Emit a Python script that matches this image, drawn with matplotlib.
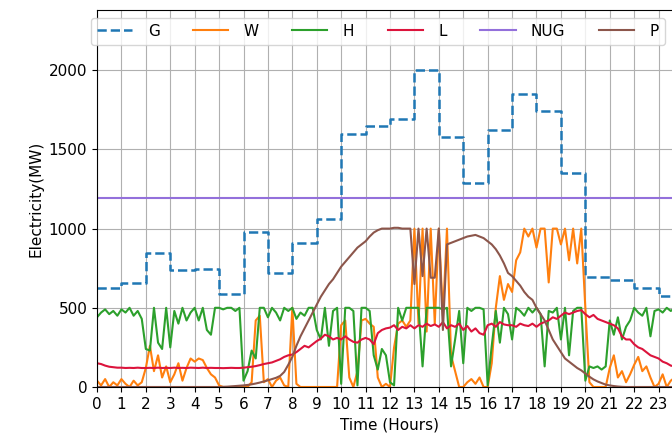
import numpy as np
import matplotlib
matplotlib.use("Agg")
import matplotlib.pyplot as plt

# ---- data ----
hours = np.arange(24)
G = [625, 656, 845, 738, 745, 587, 978, 719, 908, 1060, 1600, 1650,
     1690, 2000, 1580, 1290, 1620, 1850, 1740, 1350, 694, 675, 625, 574]
NUG = 1190

# 10-minute resolution series (6 per hour)
W = [40, 10, 50, 0, 30, 10,
     50, 20, 0, 40, 10, 30,
     120, 260, 100, 200, 60, 130,
     30, 80, 150, 40, 120, 180,
     160, 180, 170, 120, 80, 60,
     10, 0, 0, 0, 0, 0,
     0, 0, 30, 420, 450, 30,
     50, 0, 40, 60, 10, 0,
     500, 20, 0, 0, 0, 0,
     0, 0, 0, 0, 0, 0,
     390, 420, 60, 0, 100, 420,
     430, 400, 380, 60, 0, 20,
     0, 250, 400, 420, 380, 420,
     1000, 400, 1000, 350, 1000, 400,
     1000, 450, 1000, 200, 100, 0,
     0, 30, 50, 20, 60, 0,
     0, 150, 500, 700, 550, 650,
     600, 800, 850, 1000, 950, 1000,
     880, 1000, 1000, 660, 1000, 1000,
     900, 1000, 800, 1000, 780, 1000,
     500, 30, 0, 0, 0, 0,
     120, 200, 60, 100, 30, 80,
     140, 190, 100, 130, 60, 0,
     20, 80, 0, 40, 60, 20]

H = [440, 470, 490, 460, 480, 450,
     490, 470, 500, 450, 480, 430,
     240, 230, 500, 280, 240, 500,
     250, 480, 400, 500, 420, 470,
     500, 420, 500, 360, 330, 500,
     500, 490, 500, 500, 480, 500,
     40, 100, 230, 180, 500, 500,
     440, 500, 470, 420, 500, 480,
     500, 430, 470, 450, 500, 500,
     360, 300, 500, 260, 480, 500,
     20, 500, 500, 480, 10, 500,
     500, 480, 200, 110, 240, 200,
     30, 10, 500, 420, 500, 500,
     500, 500, 130, 500, 500, 500,
     500, 490, 500, 130, 300, 480,
     150, 500, 480, 500, 500, 490,
     10, 260, 480, 280, 500, 460,
     300, 500, 480, 450, 500, 470,
     500, 460, 130, 480, 470, 500,
     300, 500, 200, 480, 500, 500,
     40, 130, 120, 130, 110, 130,
     420, 330, 440, 300, 380, 420,
     500, 470, 450, 500, 320, 480,
     490, 470, 500, 480, 500, 490]

L = [150, 145, 135, 128, 125, 122,
     122, 120, 121, 120, 122, 120,
     120, 121, 120, 122, 120, 121,
     120, 122, 120, 121, 120, 122,
     121, 120, 122, 120, 121, 120,
     120, 119, 120, 121, 120, 120,
     122, 125, 128, 132, 138, 145,
     150, 155, 165, 175, 190, 200,
     205, 220, 240, 260, 250, 270,
     290, 305, 330, 320, 300, 310,
     300, 320, 300, 285, 280, 300,
     310, 300, 270, 340, 360, 370,
     375, 390, 360, 380, 370, 390,
     370, 390, 380, 400, 385, 395,
     380, 410, 370, 390, 380, 400,
     360, 385, 350, 370, 340, 330,
     390, 400, 380, 410, 395, 390,
     390, 380, 400, 390, 385, 400,
     380, 400, 410, 420, 440, 430,
     450, 470, 460, 470, 480, 485,
     460, 440, 455, 430, 420, 410,
     400, 390, 370, 320, 300, 300,
     270, 250, 240, 220, 200, 190,
     180, 160, 150, 135, 130, 125]

P = [0, 0, 0, 0, 0, 0,
     0, 0, 0, 0, 0, 0,
     0, 0, 0, 0, 0, 0,
     0, 0, 0, 0, 0, 0,
     0, 0, 0, 0, 0, 0,
     0, 1, 2, 4, 6, 8,
     10, 13, 17, 22, 28, 35,
     42, 50, 58, 70, 95, 140,
     190, 260, 320, 370, 420, 470,
     520, 570, 610, 650, 680, 720,
     760, 790, 820, 850, 880, 900,
     920, 950, 975, 990, 1000, 1000,
     1000, 1005, 1005, 1000, 1000, 1000,
     650, 1000, 700, 1000, 690, 690,
     1000, 360, 900, 910, 920, 930,
     940, 950, 955, 960, 950, 940,
     920, 900, 870, 830, 780, 720,
     700, 670, 640, 600, 570, 550,
     500, 460, 420, 360, 300, 260,
     220, 180, 160, 140, 120, 105,
     85, 65, 48, 35, 25, 15,
     10, 6, 3, 1, 0, 0,
     0, 0, 0, 0, 0, 0,
     0, 0, 0, 0, 0, 0]

t = np.arange(len(W)) / 6.0

# ---- plot ----
fig = plt.figure(figsize=(6.72, 4.40), dpi=100)
ax = fig.add_axes([97/672, 53/440, 586/672, 377/440])

gx = np.append(hours, 24)
gy = np.append(G, G[-1])
ax.step(gx, gy, where='post', color='#1f77b4', linestyle='--', lw=1.8, label='G')
ax.plot(t, W, color='#ff7f0e', lw=1.5, label='W')
ax.plot(t, H, color='#2ca02c', lw=1.5, label='H')
ax.plot(t, L, color='#dc143c', lw=1.5, label='L')
ax.axhline(NUG, color='#9370db', lw=1.5, label='NUG')
ax.plot(t, P, color='#8c564b', lw=1.5, label='P')

ax.set_xlim(0, 24)
ax.set_ylim(0, 2380)
ax.set_xticks(hours)
ax.set_yticks([0, 500, 1000, 1500, 2000])
ax.tick_params(labelsize=11)
ax.grid(True, color='#b0b0b0', lw=0.8)
ax.set_axisbelow(True)
ax.set_xlabel('Time (Hours)', fontsize=11)
ax.set_ylabel('Electricity(MW)', fontsize=11)

ax.legend(loc='upper left', bbox_to_anchor=(-0.01, 0.98), ncol=6,
          fontsize=11, borderaxespad=0, handlelength=2.3,
          columnspacing=2.2, handletextpad=1.0)

fig.savefig('out.png', dpi=100)
